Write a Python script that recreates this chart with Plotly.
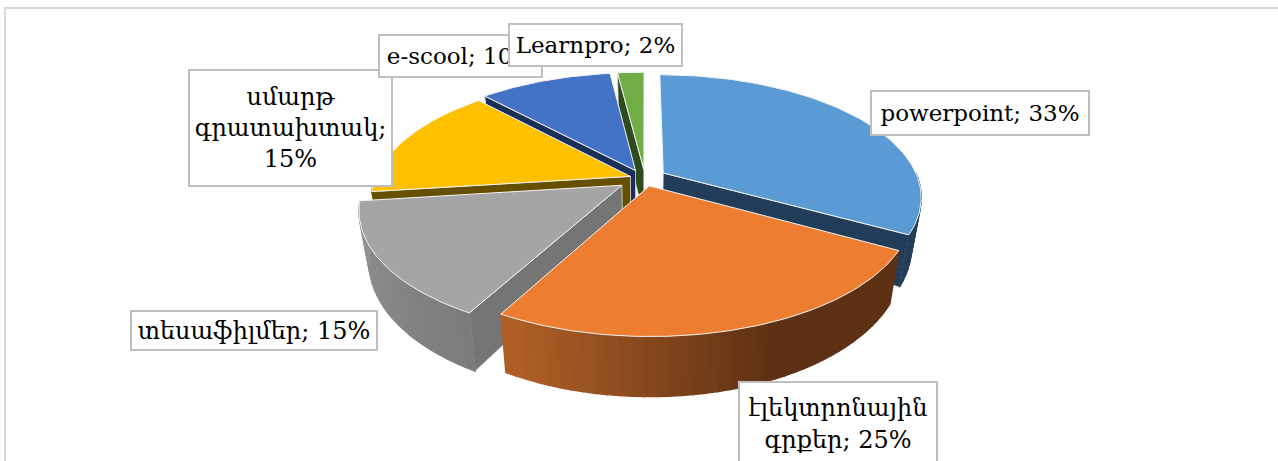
import math
import plotly.graph_objects as go

categories = ["powerpoint", "էլեկտրոնային գրքեր", "տեսաֆիլմեր", "սմարթ գրատախտակ", "e-scool", "Learnpro"]
shares = [33, 25, 15, 15, 10, 2]
label_texts = ["powerpoint; 33%", "էլեկտրոնային<br>գրքեր; 25%", "տեսաֆիլմեր; 15%",
               "սմարթ<br>գրատախտակ;<br>15%", "e-scool; 10%", "Learnpro; 2%"]

top_colors = ["#5B9BD5", "#ED7D31", "#A5A5A5", "#FFC000", "#4472C4", "#70AD47"]
cut_colors = ["#223D57", None, "#757575", "#665000", "#1C2F58", "#2F4A1D"]
cut_side = ["end", None, "start", "start", "start", "start"]
explode = [0.10, 0.06, 0.085, 0.04, 0.07, 0.07]
nudge = [(1.5, 1), (5, 1), (0, 1.5), (0, 0), (3, 0), (5, 0)]
arc_ramp = [((35, 62, 88), (35, 62, 88)), ((175, 94, 38), (94, 49, 20)),
            ((124, 124, 124), (146, 146, 146)), ((102, 80, 0), (102, 80, 0)), None, None]
draw_order = [5, 4, 3, 0, 2, 1]
label_boxes = [(980, 113, 220, 46), (838, 424, 200, 86), (254, 330, 248, 41),
               (290, 128, 205, 118), (460, 56, 165, 44), (595, 45, 175, 44)]
label_sizes = [23, 24, 24, 24, 23, 23]

CX, CY, A, B, D, H = 640, 178, 255, 119, 0.19, 48


def project(x, y, z=0.0, off=(0, 0)):
    s = 1 / (1 + D * y)
    k = 1 - 0.035 * z
    return CX + off[0] + A * x * s * k, CY + off[1] - B * y * s + H * z * s


def rim(theta, e, phi, z=0.0, off=(0, 0)):
    return project(math.sin(theta) + e * math.sin(phi), math.cos(theta) + e * math.cos(phi), z, off)


def poly(fig, pts, fill, line, width=1.0):
    fig.add_trace(go.Scatter(x=[p[0] for p in pts] + [pts[0][0]], y=[p[1] for p in pts] + [pts[0][1]],
                             mode="lines", fill="toself", fillcolor=fill,
                             line=dict(color=line, width=width), hoverinfo="skip", showlegend=False))


total = sum(shares)
spans, start = [], 0.0
for v in shares:
    a0 = start
    start += v / total * 2 * math.pi
    spans.append((a0, start))

fig = go.Figure()
for i in draw_order:
    a0, a1 = spans[i]
    phi = (a0 + a1) / 2
    e = explode[i]
    off = nudge[i]
    tip = (e * math.sin(phi), e * math.cos(phi))
    steps = max(4, int((a1 - a0) / 0.02))
    if cut_side[i]:
        a = a0 if cut_side[i] == "start" else a1
        poly(fig, [project(*tip, 0, off), rim(a, e, phi, 0, off), rim(a, e, phi, 1, off), project(*tip, 1, off)],
             cut_colors[i], "#D9DEE4", 0.8)
    if arc_ramp[i]:
        lo, hi = max(a0, math.pi / 2), min(a1, 3 * math.pi / 2)
        n = max(1, int((hi - lo) / 0.04))
        c0, c1 = arc_ramp[i]
        for k in range(n):
            u0 = lo + (hi - lo) * k / n
            u1 = lo + (hi - lo) * (k + 1) / n
            px = rim((u0 + u1) / 2, e, phi)[0]
            t = min(1, max(0, (px - 510) / 260)) if i == 1 else k / max(1, n - 1)
            col = "rgb(%d,%d,%d)" % tuple(round(c0[j] + (c1[j] - c0[j]) * t) for j in range(3))
            poly(fig, [rim(u0, e, phi, 0, off), rim(u1, e, phi, 0, off), rim(u1, e, phi, 1, off), rim(u0, e, phi, 1, off)],
                 col, col, 1.4)
    pts = [project(*tip, 0, off)] + [rim(a0 + (a1 - a0) * k / steps, e, phi, 0, off) for k in range(steps + 1)]
    poly(fig, pts, top_colors[i], "#F4F4F4", 1.0)

anns = []
for text, (x, y, w, h), fs in zip(label_texts, label_boxes, label_sizes):
    anns.append(dict(x=x, y=y, xref="x", yref="y", text=text, showarrow=False, width=w - 4, height=h - 4,
                     align="center", valign="middle", bgcolor="white", bordercolor="#BFBFBF", borderwidth=2,
                     borderpad=0, font=dict(family="DejaVu Serif", size=fs, color="black")))

fig.update_layout(
    width=1278, height=461, margin=dict(l=0, r=0, t=0, b=0), paper_bgcolor="white", plot_bgcolor="white",
    showlegend=False, annotations=anns,
    xaxis=dict(range=[0, 1278], visible=False, fixedrange=True),
    yaxis=dict(range=[461, 0], visible=False, fixedrange=True),
    shapes=[dict(type="rect", xref="x", yref="y", x0=5, y0=8, x1=1300, y1=480,
                 line=dict(color="#D9D9D9", width=2), layer="below")],
)
fig.write_html("out.html", config={"displayModeBar": False},
               post_script="document.body.style.margin='0';document.documentElement.style.overflow='hidden';")
